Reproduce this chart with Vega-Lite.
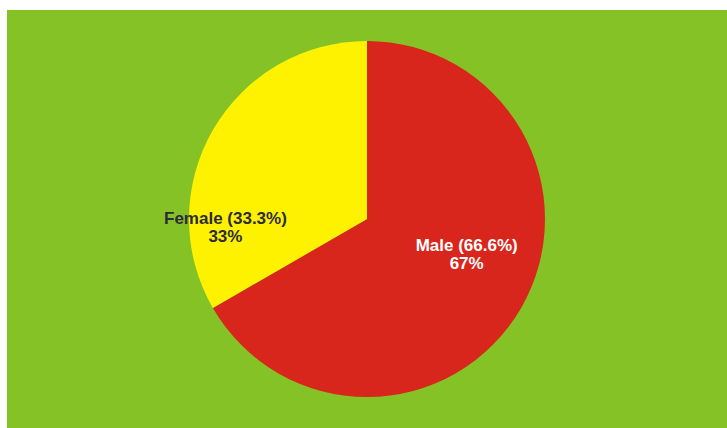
{
  "$schema": "https://vega.github.io/schema/vega-lite/v6.json",
  "width": 720,
  "height": 418,
  "padding": {"left": 7, "top": 10, "right": 0, "bottom": 0},
  "autosize": {"type": "none"},
  "background": "white",
  "view": {"fill": "#85c226", "stroke": null},
  "data": {
    "values": [
      {"Gender": "Male", "Share": 66.6, "Label": "Male (66.6%)\n67%"},
      {"Gender": "Female", "Share": 33.3, "Label": "Female (33.3%)\n33%"}
    ]
  },
  "encoding": {
    "theta": {"field": "Share", "type": "quantitative", "stack": true},
    "order": {"field": "Share", "type": "quantitative", "sort": "descending"}
  },
  "layer": [
    {
      "mark": {"type": "arc", "outerRadius": 178},
      "encoding": {
        "color": {
          "field": "Gender",
          "type": "nominal",
          "scale": {"domain": ["Male", "Female"], "range": ["#d9261c", "#fff200"]},
          "legend": null
        }
      }
    },
    {
      "mark": {"type": "text", "radius": 107, "dx": 7, "dy": -27, "fontSize": 17, "fontWeight": "bold", "font": "Liberation Sans", "lineBreak": "\n", "lineHeight": 18, "fill": "white"},
      "encoding": {
        "text": {"condition": {"test": "datum.Gender === 'Male'", "field": "Label"}, "value": ""}
      }
    },
    {
      "mark": {"type": "text", "radius": 145, "dx": -16, "dy": 72, "fontSize": 17, "fontWeight": "bold", "font": "Liberation Sans", "lineBreak": "\n", "lineHeight": 18, "fill": "#2b2b3a"},
      "encoding": {
        "text": {"condition": {"test": "datum.Gender === 'Female'", "field": "Label"}, "value": ""}
      }
    }
  ]
}
